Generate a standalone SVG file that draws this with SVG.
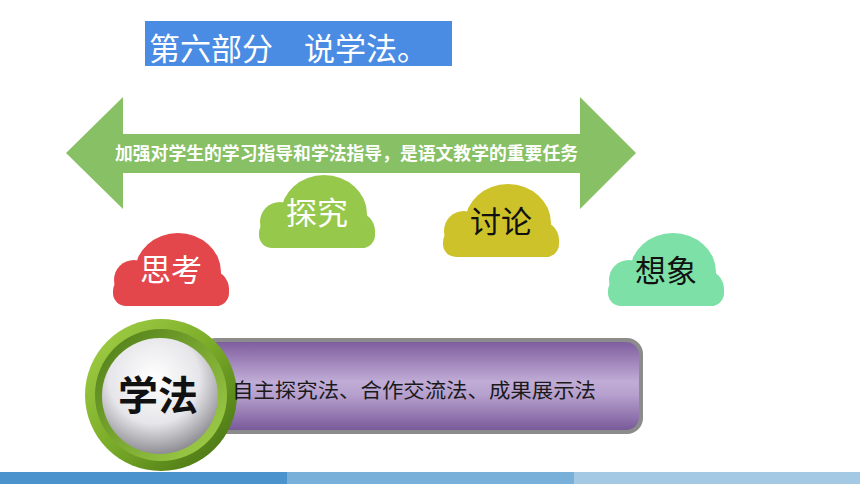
<svg xmlns="http://www.w3.org/2000/svg" width="860" height="484" viewBox="0 0 860 484">
<defs>
<style>
.cjk{font-family:"Noto Sans CJK SC","Noto Sans CJK JP",sans-serif}
.cloudtxt{font-size:31px;text-anchor:middle}
</style>
<clipPath id="cloudclip"><rect x="0" y="-5" width="116" height="78"/></clipPath>
<symbol id="cloud" viewBox="0 0 116 73" overflow="visible">
<g clip-path="url(#cloudclip)">
<rect x="0" y="45" width="116" height="28" rx="13"/>
<circle cx="21" cy="47" r="20"/>
<ellipse cx="65" cy="39" rx="43" ry="39"/>
<circle cx="97" cy="56" r="19"/>
</g>
</symbol>
<linearGradient id="purple" x1="0" y1="0" x2="0" y2="1">
<stop offset="0" stop-color="#7f5e9f"/>
<stop offset="0.45" stop-color="#c0acd6"/>
<stop offset="0.6" stop-color="#b6a0ce"/>
<stop offset="1" stop-color="#7a5a9a"/>
</linearGradient>
<radialGradient id="sphere" cx="0.45" cy="0.35" r="0.65">
<stop offset="0" stop-color="#ffffff"/>
<stop offset="0.6" stop-color="#e6e6ea"/>
<stop offset="1" stop-color="#8e8e94"/>
</radialGradient>
<linearGradient id="ring" x1="0" y1="0" x2="1" y2="1">
<stop offset="0" stop-color="#a8d34a"/>
<stop offset="0.5" stop-color="#7aab28"/>
<stop offset="1" stop-color="#3f6a10"/>
</linearGradient>
<linearGradient id="ring2" x1="1" y1="1" x2="0" y2="0">
<stop offset="0" stop-color="#a6d44c"/>
<stop offset="1" stop-color="#4d7a16"/>
</linearGradient>
</defs>
<rect width="860" height="484" fill="#ffffff"/>

<g id="title">
<rect x="145" y="21" width="307" height="45" fill="#4a8be3"/>
<text class="cjk" x="149" y="60" font-size="31" fill="#ffffff" xml:space="preserve">第六部分　说学法。</text>
</g>

<g id="banner-arrow">
<polygon points="66,153 123,97 123,134 580,134 580,97 636,153 580,209 580,173 123,173 123,209" fill="#88c065"/>
<text class="cjk" x="115" y="159.5" font-size="18" font-weight="700" fill="#ffffff" textLength="463" lengthAdjust="spacingAndGlyphs">加强对学生的学习指导和学法指导，是语文教学的重要任务</text>
</g>

<g id="cloud-sikao">
<use href="#cloud" x="113" y="233" width="116" height="73" fill="#e4474b"/>
<text class="cjk cloudtxt" x="171" y="281" fill="#ffffff">思考</text>
</g>
<g id="cloud-tanjiu">
<use href="#cloud" x="259" y="175" width="116" height="73" fill="#96c94b"/>
<text class="cjk cloudtxt" x="317" y="224" fill="#ffffff">探究</text>
</g>
<g id="cloud-taolun">
<use href="#cloud" x="443" y="184" width="116" height="73" fill="#cdc229"/>
<text class="cjk cloudtxt" x="501" y="233" fill="#111111">讨论</text>
</g>
<g id="cloud-xiangxiang">
<use href="#cloud" x="608" y="233" width="116" height="73" fill="#7de0a6"/>
<text class="cjk cloudtxt" x="666" y="282" fill="#111111">想象</text>
</g>

<g id="xuefa">
<rect x="200" y="338" width="443" height="96" rx="16" fill="#8c8c8c"/>
<rect x="204" y="342" width="435" height="88" rx="13" fill="url(#purple)"/>
<circle cx="161" cy="395" r="76" fill="url(#ring)"/>
<circle cx="161" cy="395" r="66" fill="url(#ring2)"/>
<circle cx="160" cy="396" r="58" fill="url(#sphere)"/>
<text class="cjk" x="158" y="410" font-size="40" font-weight="700" text-anchor="middle" fill="#111111">学法</text>
<text class="cjk" x="232" y="398" font-size="20" fill="#1a1a1a" textLength="364" lengthAdjust="spacingAndGlyphs">自主探究法、合作交流法、成果展示法</text>
</g>

<g id="footer">
<rect x="0" y="472" width="287" height="12" fill="#4a93cc"/>
<rect x="287" y="472" width="287" height="12" fill="#78b0d9"/>
<rect x="574" y="472" width="286" height="12" fill="#a3c9e5"/>
</g>
<g id="connectors"/>
</svg>
